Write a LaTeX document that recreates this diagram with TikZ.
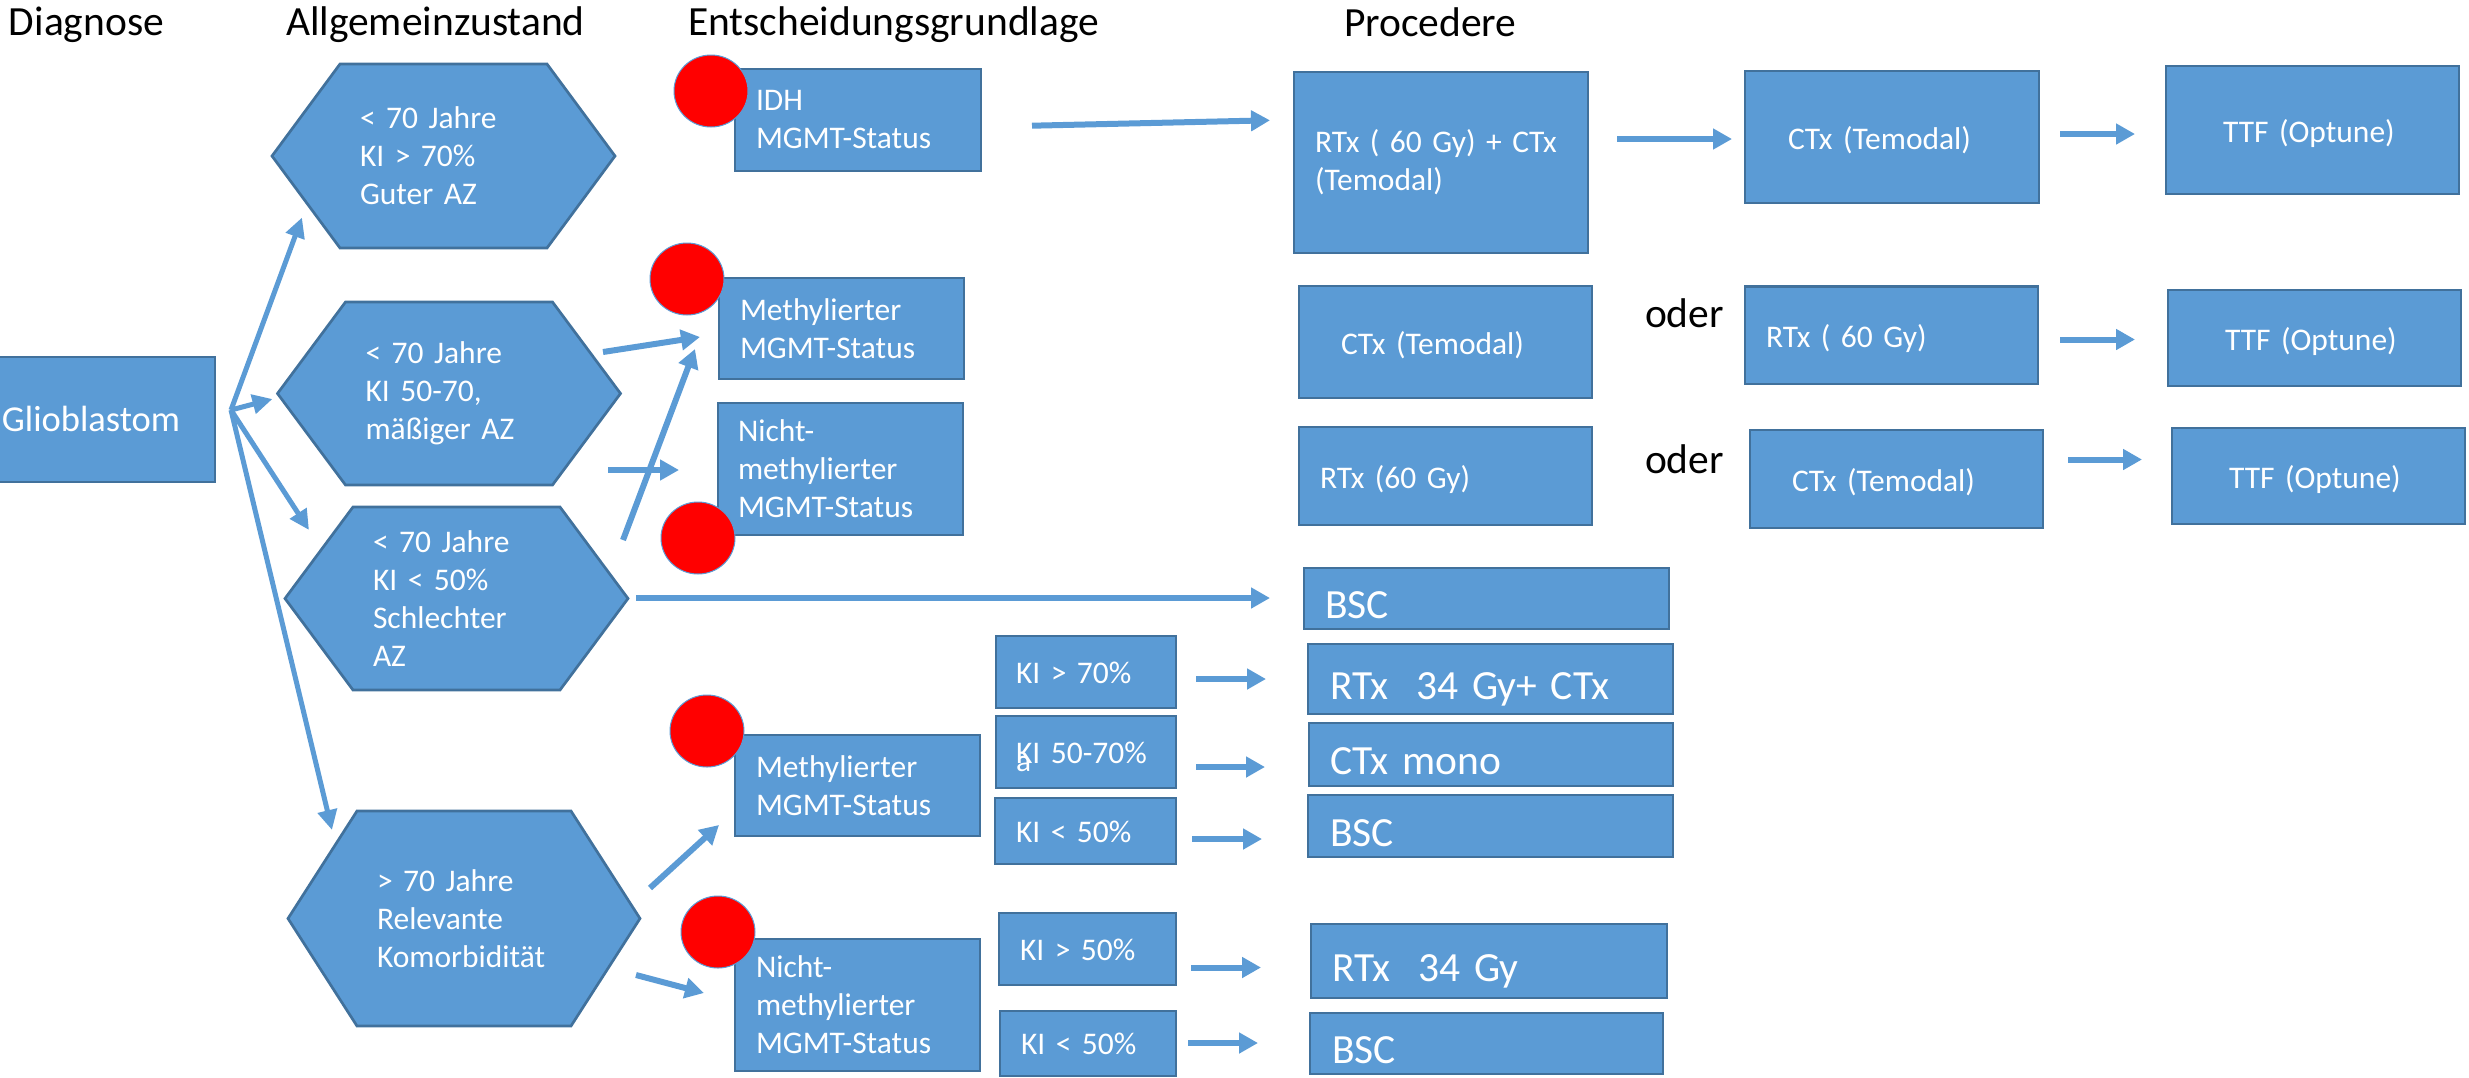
\documentclass[tikz,border=0pt]{standalone}
\usepackage{fontspec}
\setmainfont{Carlito}
\usetikzlibrary{arrows.meta,shapes.geometric,backgrounds}
\definecolor{flowfill}{HTML}{5B9BD5}
\definecolor{flowline}{HTML}{41719C}
\begin{document}
\begin{tikzpicture}[x=1pt,y=-1pt,
  every node/.style={outer sep=0pt},
  smallfont/.style={font=\fontsize{31.5}{38}\selectfont},
  bigfont/.style={font=\fontsize{41.5}{50}\selectfont},
  box/.style={rectangle, draw=flowline, fill=flowfill, line width=2.7pt,
    inner ysep=0pt, text=white, align=left},
  hexnode/.style={rectangle, inner ysep=0pt, inner xsep=20pt, text=white,
    align=left, smallfont},
  hexshape/.style={draw=flowline, fill=flowfill, line width=2.7pt, line join=miter},
  oneline/.style={text height=24.3pt, text depth=0pt},
  kiline/.style={text height=22.3pt, text depth=0pt},
  bigline/.style={text height=40.7pt, text depth=0pt},
  dot/.style={ellipse, fill=red, draw=flowfill, line width=1pt,
    minimum width=74pt, minimum height=72pt, inner sep=0pt},
  head/.style={bigfont, anchor=base west, inner sep=0pt},
  flow/.style={draw=flowfill, line width=6pt, -{Triangle[length=19pt,width=20pt]}},
  fork/.style={draw=flowfill, line width=5pt, -{Triangle[length=20pt,width=19pt]}},
]
\useasboundingbox (0,0) rectangle (2469,1077);

% column headings
\node[head] (hd1) at (9,35) {Diagnose};
\node[head] (hd2) at (286,35) {Allgemeinzustand};
\node[head] (hd3) at (688,35) {Entscheidungsgrundlage};
\node[head] (hd4) at (1344,36) {Procedere};

% diagnosis
\node[box, minimum width=248pt, minimum height=125pt, inner xsep=0pt,
  font=\fontsize{36.5}{44}\selectfont, text height=23.5pt, text depth=0pt]
  (glio) at (91,419.5) {Glioblastom};

% general condition (hexagons)
\node[hexnode, minimum width=207pt, minimum height=184pt, text width=167pt]
  (h1) at (443.5,156) {< 70 Jahre\\KI > 70\%\\Guter AZ};
\node[hexnode, minimum width=207pt, minimum height=183pt, text width=167pt]
  (h2) at (449,393.5) {< 70 Jahre\\KI 50-70,\\mäßiger AZ};
\node[hexnode, minimum width=207pt, minimum height=183pt, text width=167pt]
  (h3) at (456.5,598.5) {< 70 Jahre\\KI < 50\%\\Schlechter\\AZ};
\node[hexnode, minimum width=214pt, minimum height=215pt, text width=174pt]
  (h4) at (464,918.5) {> 70 Jahre\\Relevante\\Komorbidität};
\begin{scope}[on background layer]
  \foreach \h/\e in {h1/68,h2/68,h3/68,h4/69}
    \path[hexshape] (\h.north west) -- (\h.north east) -- ([xshift=\e pt]\h.east)
      -- (\h.south east) -- (\h.south west) -- ([xshift=-\e pt]\h.west) -- cycle;
\end{scope}

% decision basis
\node[box, smallfont, minimum width=246pt, minimum height=102pt, inner xsep=21pt, text width=204pt]
  (idh) at (858,120) {IDH\\MGMT-Status};
\node[box, smallfont, minimum width=245pt, minimum height=101pt, inner xsep=21pt, text width=203pt]
  (methA) at (841.5,328.5) {Methylierter\\MGMT-Status};
\node[box, smallfont, minimum width=245pt, minimum height=132pt, inner xsep=20pt, text width=205pt]
  (nichtA) at (840.5,469) {Nicht-\\methylierter\\MGMT-Status};
\node[box, smallfont, minimum width=245pt, minimum height=101pt, inner xsep=21pt, text width=203pt]
  (methB) at (857.5,785.5) {Methylierter\\MGMT-Status};
\node[box, smallfont, minimum width=245pt, minimum height=132pt, inner xsep=21pt, text width=203pt]
  (nichtB) at (857.5,1005) {Nicht-\\methylierter\\MGMT-Status};

% Karnofsky subgroups of the elderly patients
\node[box, smallfont, kiline, minimum width=180pt, minimum height=72pt, inner xsep=20pt, text width=140pt]
  (kiA) at (1086,672) {KI > 70\%};
\node[box, smallfont, kiline, minimum width=180pt, minimum height=72pt, inner xsep=20pt, text width=140pt]
  (kiB) at (1086,752) {\rlap{\raisebox{-8pt}{a}}KI 50-70\%};
\node[box, smallfont, kiline, minimum width=181pt, minimum height=66pt, inner xsep=21pt, text width=139pt]
  (kiC) at (1085.5,831) {KI < 50\%};
\node[box, smallfont, kiline, minimum width=177pt, minimum height=72pt, inner xsep=21pt, text width=135pt]
  (kiD) at (1087.5,949) {KI > 50\%};
\node[box, smallfont, kiline, minimum width=176pt, minimum height=65pt, inner xsep=21pt, text width=134pt]
  (kiE) at (1088,1043.5) {KI < 50\%};

% procedure, first column
\node[box, smallfont, minimum width=294pt, minimum height=181pt, inner xsep=21pt, text width=252pt]
  (rtxctx) at (1441,162.5) {RTx ( 60 Gy) + CTx\\(Temodal)};
\node[box, smallfont, oneline, minimum width=293pt, minimum height=112pt, inner xsep=42pt, text width=209pt]
  (ctxA) at (1445.5,342) {CTx (Temodal)};
\node[box, smallfont, oneline, minimum width=293pt, minimum height=98pt, inner xsep=21pt, text width=251pt]
  (rtxA) at (1445.5,476) {RTx (60 Gy)};
\node[box, bigfont, bigline, minimum width=365pt, minimum height=61pt, inner xsep=21pt, text width=323pt]
  (bscA) at (1486.5,598.5) {BSC};
\node[box, bigfont, bigline, minimum width=365pt, minimum height=70pt, inner xsep=22pt, text width=321pt]
  (rtxKombi) at (1490.5,679) {RTx\ \ 34 Gy+ CTx};
\node[box, bigfont, bigline, minimum width=364pt, minimum height=63pt, inner xsep=21pt, text width=322pt]
  (ctxMono) at (1491,754.5) {CTx mono};
\node[box, bigfont, bigline, minimum width=365pt, minimum height=62pt, inner xsep=22pt, text width=321pt]
  (bscB) at (1490.5,826) {BSC};
\node[box, bigfont, bigline, minimum width=356pt, minimum height=74pt, inner xsep=21pt, text width=314pt]
  (rtxKurz) at (1489,961) {RTx\ \ 34 Gy};
\node[box, bigfont, bigline, minimum width=353pt, minimum height=61pt, inner xsep=22pt, text width=309pt]
  (bscC) at (1486.5,1043.5) {BSC};

% alternatives
\node[bigfont, anchor=base west, inner sep=0pt] (oderA) at (1645,327) {oder};
\node[bigfont, anchor=base west, inner sep=0pt] (oderB) at (1645,473) {oder};

% procedure, second and third column
\node[box, smallfont, oneline, minimum width=294pt, minimum height=132pt, inner xsep=43pt, text width=208pt]
  (ctxB) at (1892,137) {CTx (Temodal)};
\node[box, smallfont, oneline, minimum width=293pt, minimum height=97.5pt, inner xsep=21pt, text width=251pt]
  (rtxB) at (1891.5,335.25) {RTx ( 60 Gy)};
\node[box, smallfont, oneline, minimum width=293pt, minimum height=98pt, inner xsep=42pt, text width=209pt]
  (ctxC) at (1896.5,479) {CTx (Temodal)};
\node[box, smallfont, oneline, minimum width=293pt, minimum height=128pt, inner xsep=57pt, text width=179pt]
  (ttfA) at (2312.5,130) {TTF (Optune)};
\node[box, smallfont, oneline, minimum width=293pt, minimum height=96pt, inner xsep=57pt, text width=179pt]
  (ttfB) at (2314.5,338) {TTF (Optune)};
\node[box, smallfont, oneline, minimum width=293pt, minimum height=96pt, inner xsep=57pt, text width=179pt]
  (ttfC) at (2318.5,476) {TTF (Optune)};

% connectors from the diagnosis
\coordinate (forkpt) at ([shift={(16,-9.5)}]glio.east);
\draw[fork] (forkpt) -- ([shift={(-38,-30.5)}]h1.south west);
\draw[fork] (forkpt) -- ([shift={(-73,5.5)}]h2.west);
\draw[fork] (forkpt) -- ([shift={(-44,23)}]h3.north west);
\draw[fork] (forkpt) -- ([shift={(-25,19)}]h4.north west);

% connectors from the general condition
\draw[flow] ([shift={(50.5,-41.5)}]h2.east) -- ([shift={(-19,8.5)}]methA.west);
\draw[flow] ([shift={(55.5,76.5)}]h2.east) -- ([shift={(-39,1)}]nichtA.west);
\draw[flow] ([shift={(63,-58.5)}]h3.east) -- ([shift={(-24,20.5)}]methA.west);
\draw[flow] ([shift={(76,-0.5)}]h3.east) -- ([shift={(-34,-0.5)}]bscA.west);
\draw[flow] ([shift={(79,-30.5)}]h4.east) -- ([shift={(-16,39.5)}]methB.west);
\draw[flow] ([shift={(65,56.5)}]h4.east) -- ([shift={(-31,-12)}]nichtB.west);

% connectors of the treatment sequences
\draw[flow] ([shift={(51,5.7)}]idh.east) -- ([shift={(-24,-42.2)}]rtxctx.west);
\draw[flow] ([shift={(29,-23.5)}]rtxctx.east) -- ([shift={(-13,2)}]ctxB.west);
\draw[flow] ([shift={(21,-3)}]ctxB.east) -- ([shift={(-31,4)}]ttfA.west);
\draw[flow] ([shift={(22,4.25)}]rtxB.east) -- ([shift={(-33,1.5)}]ttfB.west);
\draw[flow] ([shift={(25,-19.5)}]ctxC.east) -- ([shift={(-30,-16.5)}]ttfC.west);
\draw[flow] ([shift={(20,7)}]kiA.east) -- ([shift={(-42,0)}]rtxKombi.west);
\draw[flow] ([shift={(20,15)}]kiB.east) -- ([shift={(-44,12.5)}]ctxMono.west);
\draw[flow] ([shift={(16,8)}]kiC.east) -- ([shift={(-46,13)}]bscB.west);
\draw[flow] ([shift={(15,18.5)}]kiD.east) -- ([shift={(-50,6.5)}]rtxKurz.west);
\draw[flow] ([shift={(12,-0.5)}]kiE.east) -- ([shift={(-52,-0.5)}]bscC.west);

% red markers
\node[dot] (dotA) at (711,91) {};
\node[dot] (dotB) at (687,279) {};
\node[dot] (dotC) at (698,538) {};
\node[dot] (dotD) at (707,731) {};
\node[dot] (dotE) at (718,932) {};
\end{tikzpicture}
\end{document}
